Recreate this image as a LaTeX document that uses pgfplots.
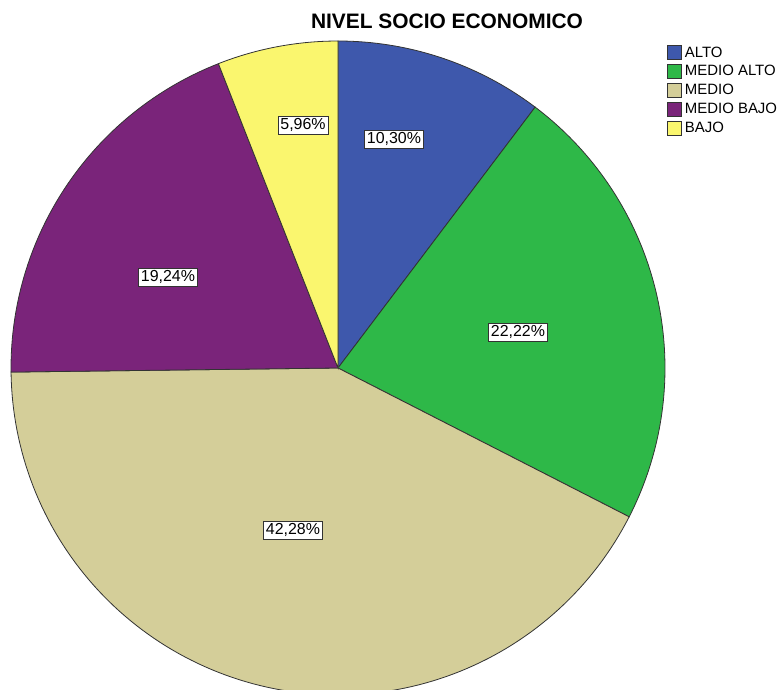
\documentclass[border=0pt]{standalone}
\usepackage{pgfplots}
\usepackage{pgfplotstable}
\pgfplotsset{compat=1.18}
\usepackage{fontspec}
\setmainfont{Liberation Sans}
\definecolor{cAlto}{RGB}{62,88,172}
\definecolor{cMedAlto}{RGB}{46,184,72}
\definecolor{cMedio}{RGB}{212,206,153}
\definecolor{cMedBajo}{RGB}{122,36,122}
\definecolor{cBajo}{RGB}{250,246,110}

\pgfplotstableread[col sep=comma]{
cat,pct
ALTO,10.30
MEDIO ALTO,22.22
MEDIO,42.28
MEDIO BAJO,19.24
BAJO,5.96
}\piedata

\begin{document}
\begin{tikzpicture}
\pgfplotstablegetelem{0}{pct}\of\piedata\let\pA\pgfplotsretval
\pgfplotstablegetelem{1}{pct}\of\piedata\let\pB\pgfplotsretval
\pgfplotstablegetelem{2}{pct}\of\piedata\let\pC\pgfplotsretval
\pgfplotstablegetelem{3}{pct}\of\piedata\let\pD\pgfplotsretval
\pgfplotstablegetelem{4}{pct}\of\piedata\let\pE\pgfplotsretval
\pgfmathsetmacro\aA{90}
\pgfmathsetmacro\aB{\aA-3.6*\pA}
\pgfmathsetmacro\aC{\aB-3.6*\pB}
\pgfmathsetmacro\aD{\aC-3.6*\pC}
\pgfmathsetmacro\aE{\aD-3.6*\pD}
\pgfmathsetmacro\aF{\aE-3.6*\pE}
\def\cx{338}\def\cy{322}\def\rr{327}
\begin{axis}[
  scale only axis, width=777bp, height=690bp,
  xmin=0, xmax=777, ymin=0, ymax=690,
  hide axis, clip=true,
  legend image code/.code={\draw[#1,draw=black!80,line width=0.7bp] (0bp,-7bp) rectangle (14bp,7bp);},
  legend style={at={(axis cs:667,645)}, anchor=north west, draw=none, fill=none,
    inner sep=0pt, row sep=4.2bp, column sep=2bp,
    font=\fontsize{15}{17}\selectfont,
    nodes={inner sep=1bp, anchor=west}},
  legend cell align=left,
]
\addplot[fill=cAlto, draw=black!80, line width=0.8bp, domain=\aB:\aA, samples=60]
  ({\cx+\rr*cos(x)},{\cy+\rr*sin(x)}) -- (axis cs:\cx,\cy) -- cycle;
\addplot[fill=cMedAlto, draw=black!80, line width=0.8bp, domain=\aC:\aB, samples=80]
  ({\cx+\rr*cos(x)},{\cy+\rr*sin(x)}) -- (axis cs:\cx,\cy) -- cycle;
\addplot[fill=cMedio, draw=black!80, line width=0.8bp, domain=\aD:\aC, samples=120]
  ({\cx+\rr*cos(x)},{\cy+\rr*sin(x)}) -- (axis cs:\cx,\cy) -- cycle;
\addplot[fill=cMedBajo, draw=black!80, line width=0.8bp, domain=\aE:\aD, samples=70]
  ({\cx+\rr*cos(x)},{\cy+\rr*sin(x)}) -- (axis cs:\cx,\cy) -- cycle;
\addplot[fill=cBajo, draw=black!80, line width=0.8bp, domain=\aF:\aE, samples=30]
  ({\cx+\rr*cos(x)},{\cy+\rr*sin(x)}) -- (axis cs:\cx,\cy) -- cycle;
\addlegendimage{fill=cAlto}\addlegendentry{ALTO}
\addlegendimage{fill=cMedAlto}\addlegendentry{MEDIO ALTO}
\addlegendimage{fill=cMedio}\addlegendentry{MEDIO}
\addlegendimage{fill=cMedBajo}\addlegendentry{MEDIO BAJO}
\addlegendimage{fill=cBajo}\addlegendentry{BAJO}
\tikzset{lbl/.style={draw=black!80, fill=white, line width=0.8bp, inner sep=2.5bp, font=\fontsize{16}{18}\selectfont}}
\node[lbl] at (axis cs:394,551) {10,30\%};
\node[lbl] at (axis cs:303,565) {5,96\%};
\node[lbl] at (axis cs:168,413) {19,24\%};
\node[lbl] at (axis cs:293,160) {42,28\%};
\node[lbl] at (axis cs:518,358) {22,22\%};
\node[font=\bfseries\fontsize{21}{24}\selectfont] at (axis cs:447,669) {NIVEL SOCIO ECONOMICO};
\end{axis}
\pgfresetboundingbox
\path[use as bounding box] (current axis.south west) rectangle (current axis.north east);
\end{tikzpicture}
\end{document}
